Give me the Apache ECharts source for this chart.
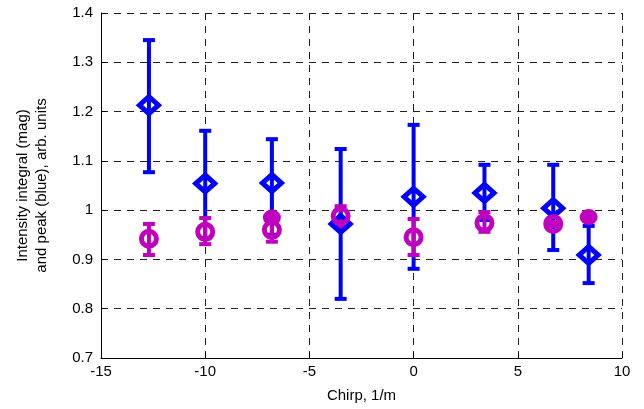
<!DOCTYPE html>
<html>
<head>
<meta charset="utf-8">
<script src="https://cdn.jsdelivr.net/npm/echarts@6/dist/echarts.min.js"></script>
<style>
  html, body { margin: 0; padding: 0; background: #fff; }
  #chart { width: 644px; height: 409px; }
</style>
</head>
<body>
<div id="chart"></div>
<script>
// chirp values (1/m)
var chirp = [-12.7, -10, -6.8, -3.5, 0, 3.4, 6.7, 8.4];
// peak (blue) with error bars
var peak = [1.213, 1.054, 1.055, 0.972, 1.027, 1.035, 1.004, 0.909];
var peakHi = [1.345, 1.161, 1.144, 1.124, 1.173, 1.092, 1.092, 0.968];
var peakLo = [1.077, 0.943, 0.950, 0.820, 0.881, 0.980, 0.919, 0.852];
// integral (magenta) open circles with error bars
var integ = [0.942, 0.956, 0.960, 0.988, 0.945, 0.974, 0.972];
var integHi = [0.972, 0.984, 0.985, 1.008, 0.982, 0.996, 0.976];
var integLo = [0.909, 0.931, 0.936, 0.966, 0.909, 0.956, 0.968];
// integral (magenta) filled circles
var filledX = [-6.8, 8.4];
var filledY = [0.985, 0.986];

var blue = '#0000ff';
var mag = '#bf00bf';
var font = 'Liberation Sans, Arial, sans-serif';

function errData(xs, lo, hi) {
    var out = [];
    for (var i = 0; i < lo.length; i++) out.push([xs[i], lo[i], hi[i]]);
    return out;
}
function errSeries(data, color) {
    return {
        type: 'custom',
        data: data,
        encode: { x: 0, y: [1, 2] },
        z: 2,
        renderItem: function (params, api) {
            var lo = api.coord([api.value(0), api.value(1)]);
            var hi = api.coord([api.value(0), api.value(2)]);
            var w = 6;
            var st = { stroke: color, lineWidth: 4 };
            return {
                type: 'group',
                children: [
                    { type: 'line', shape: { x1: lo[0], y1: lo[1], x2: hi[0], y2: hi[1] }, style: st },
                    { type: 'line', shape: { x1: lo[0] - w, y1: lo[1], x2: lo[0] + w, y2: lo[1] }, style: st },
                    { type: 'line', shape: { x1: hi[0] - w, y1: hi[1], x2: hi[0] + w, y2: hi[1] }, style: st }
                ]
            };
        }
    };
}
function pairs(xs, ys) {
    var out = [];
    for (var i = 0; i < ys.length; i++) out.push([xs[i], ys[i]]);
    return out;
}

var option = {
    animation: false,
    grid: { left: 101, right: 22, top: 13, bottom: 51 },
    xAxis: {
        type: 'value', min: -15, max: 10, interval: 5,
        name: 'Chirp, 1/m', nameLocation: 'middle', nameGap: 30,
        nameTextStyle: { fontFamily: font, fontSize: 15, color: '#000' },
        axisLine: { onZero: false, lineStyle: { color: '#000', width: 1 } },
        axisTick: { inside: true, length: 5, lineStyle: { color: '#000' } },
        axisLabel: { fontFamily: font, fontSize: 15, color: '#000', margin: 6 },
        splitLine: { show: true, lineStyle: { color: '#222', type: [7, 6], width: 1 } }
    },
    yAxis: {
        type: 'value', min: 0.7, max: 1.4, interval: 0.1,
        name: 'Intensity integral (mag)\nand peak (blue), arb. units',
        nameLocation: 'middle', nameGap: 50, nameRotate: 90,
        nameTextStyle: { fontFamily: font, fontSize: 15, color: '#000', lineHeight: 19 },
        axisLine: { show: true, onZero: false, lineStyle: { color: '#000', width: 1 } },
        axisTick: { show: true, inside: true, length: 5, lineStyle: { color: '#000' } },
        axisLabel: { fontFamily: font, fontSize: 15, color: '#000', margin: 8 },
        splitLine: { show: true, lineStyle: { color: '#222', type: [7, 6], width: 1 } }
    },
    series: [
        errSeries(errData(chirp, peakLo, peakHi), blue),
        errSeries(errData(chirp, integLo, integHi), mag),
        {
            type: 'scatter', data: pairs(chirp, peak), symbol: 'diamond', symbolSize: [19, 17], z: 4,
            itemStyle: { color: 'rgba(255,255,255,0)', borderColor: blue, borderWidth: 5, opacity: 1 }
        },
        {
            type: 'scatter', data: pairs(chirp, integ), symbol: 'circle', symbolSize: 15, z: 5,
            itemStyle: { color: 'rgba(255,255,255,0)', borderColor: mag, borderWidth: 5, opacity: 1 }
        },
        {
            type: 'scatter', data: pairs(filledX, filledY), symbol: 'circle', symbolSize: [18, 16], z: 6,
            itemStyle: { color: mag, opacity: 1 }
        }
    ]
};
var myChart = echarts.init(document.getElementById('chart'));
myChart.setOption(option);
</script>
</body>
</html>
